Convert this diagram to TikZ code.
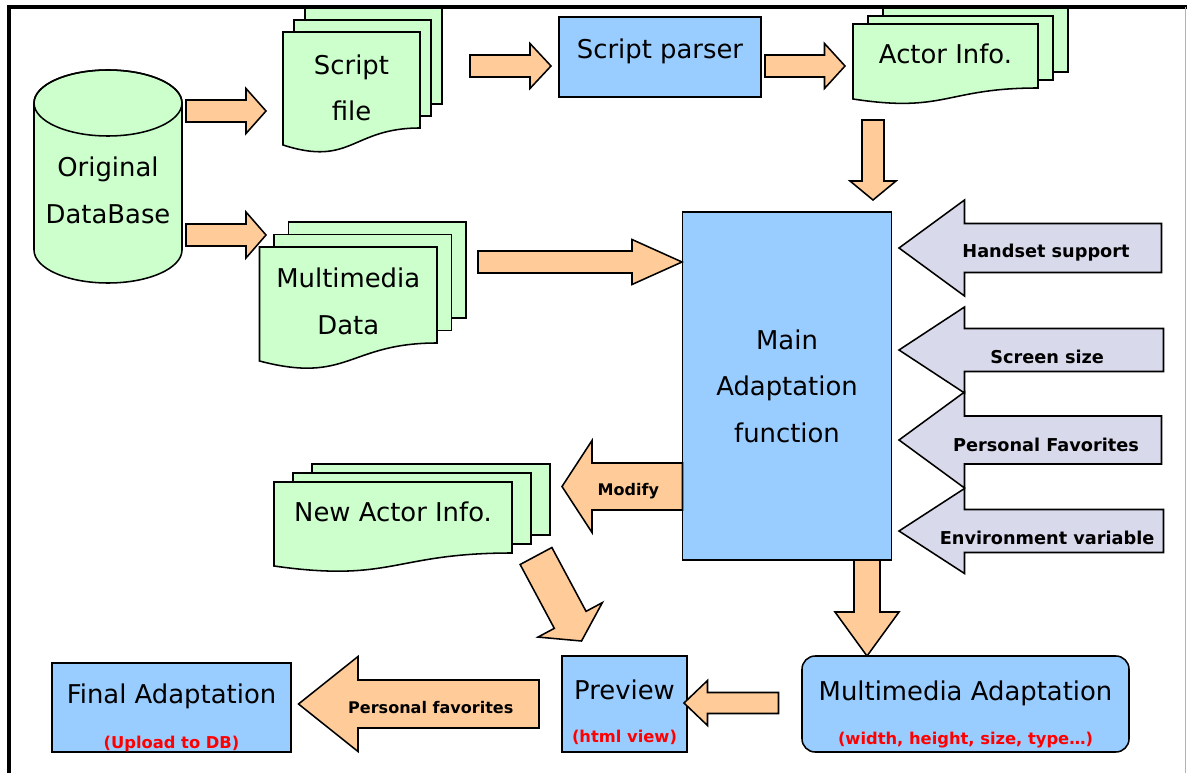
\documentclass[tikz,border=0pt]{standalone}
\usepackage{fontspec}
\setmainfont{DejaVu Sans}
\usetikzlibrary{calc}

\definecolor{docgreen}{HTML}{CCFFCC}
\definecolor{boxblue}{HTML}{99CCFF}
\definecolor{flowpeach}{HTML}{FFCC99}
\definecolor{inlilac}{HTML}{D9D9EC}

\tikzset{
  px box/.style 2 args={minimum width=#1*0.025cm, minimum height=#2*0.025cm, inner sep=0pt, outer sep=0pt},
  outline/.style={draw=black, line width=1.1pt, line join=miter},
  sheet/.style={outline, fill=docgreen},
  bluebox/.style={outline, fill=boxblue},
  fatarrow/.style={outline, fill=flowpeach},
  inarrow/.style={outline, fill=inlilac},
  big/.style={font=\fontsize{18.4}{33}\selectfont, align=center},
  lbl/.style={font=\bfseries\fontsize{11.4}{14}\selectfont},
  inlbl/.style={font=\bfseries\fontsize{12.6}{15}\selectfont},
  redlbl/.style={font=\bfseries\fontsize{11.6}{13}\selectfont, text=red},
}

% block arrow between two named coordinates:
% [style]{from}{to}{shaft half width}{head half width}{head length}
\newcommand{\barrow}[6][fatarrow]{%
  \coordinate (ba-h) at ($(#3)!#6*0.025cm!(#2)$);
  \draw[#1] ($(#2)!#4*0.025cm!90:(#3)$) -- ($(ba-h)!#4*0.025cm!90:(#3)$)
    -- ($(ba-h)!#5*0.025cm!90:(#3)$) -- (#3) -- ($(ba-h)!#5*0.025cm!-90:(#3)$)
    -- ($(ba-h)!#4*0.025cm!-90:(#3)$) -- ($(#2)!#4*0.025cm!-90:(#3)$) -- cycle;
}

% stack of three sheets with a wavy front sheet
% {name}{left}{top}{width}{left height}{right height}{sheet offset}{text shift}{text}
\newcommand{\docstack}[9]{%
  \foreach \k in {2,1}
    \draw[sheet] ($(#2,#3)+\k*#7$) rectangle ++(#4,#6);
  \draw[sheet] (#2,#3) -- ++(#4,0) -- ++(0,#6)
    .. controls ({#2+#4/2},{#3+#6}) and ({#2+#4/2},{#3+#5+1.3*(#5-#6)}) .. (#2,{#3+#5}) -- cycle;
  \node[px box={#4}{#6}] (#1) at ({#2+#4/2},{#3+#6/2}) {};
  \node[big] (#1-txt) at ($(#1.center)+(0,#8)$) {#9};
}

\begin{document}
\begin{tikzpicture}[x=0.025cm, y=-0.025cm]
  \useasboundingbox (0,0) rectangle (1187,773);

  % page frame
  \draw[line width=2.2pt] (9,773) -- (9,7) -- (1187,7);
  \draw[gray!60, line width=0.8pt] (1185.5,7) -- (1185.5,773);

  % database cylinder
  \node[px box={148}{213}] (db) at (108,176.5) {};
  \draw[sheet] ($(db.north west)+(0,33)$) -- ($(db.south west)+(0,-33)$)
    arc[start angle=180, end angle=0, x radius=74, y radius=33]
    -- ($(db.north east)+(0,33)$)
    arc[start angle=0, end angle=-180, x radius=74, y radius=33] -- cycle;
  \draw[outline] ($(db.north)+(0,33)$) ellipse [x radius=74, y radius=33];
  \node[big] (db-txt) at ($(db.center)+(0,14)$) {Original\\DataBase};

  % documents
  \docstack{script}{283}{32}{137}{113}{96}{(11,-12)}{8}{Script\\file}
  \docstack{actor}{853}{24}{185}{75}{64}{(15,-8)}{-2}{Actor Info.}
  \docstack{mmdata}{259.5}{247}{177.5}{114}{96}{(14.5,-12.5)}{6.5}{Multimedia\\Data}
  \docstack{newactor}{274}{482}{238}{84}{71}{(19,-9)}{-5.5}{New Actor Info.}

  % process boxes
  \node[bluebox, px box={202}{80}] (parser) at (660,57) {};
  \node[big] (parser-t) at ($(parser.center)+(0,-6)$) {Script parser};
  \node[bluebox, big, px box={209}{348}] (main) at (787,386) {Main\\Adaptation\\function};
  \node[bluebox, px box={125}{96}] (preview) at (624.5,704) {};
  \node[big] (preview-t) at ($(preview.north)+(0,34)$) {Preview};
  \node[redlbl] (preview-s) at ($(preview.south)+(0,-15)$) {(html view)};
  \node[bluebox, rounded corners=0.33cm, px box={327}{96}] (mma) at (965.5,704) {};
  \node[big] (mma-t) at ($(mma.north)+(0,37)$) {Multimedia Adaptation};
  \node[redlbl] (mma-s) at ($(mma.south)+(0,-12)$) {(width, height, size, type…)};
  \node[bluebox, px box={239}{89}] (final) at (171.5,707.5) {};
  \node[big] (final-t) at ($(final.north)+(0,33)$) {Final Adaptation};
  \node[redlbl] (final-s) at ($(final.south)+(0,-8)$) {(Upload to DB)};

  % data flow
  \coordinate (db-o1) at ($(db.north east)+(4,41)$);
  \coordinate (script-i) at ($(script.west)+(-17,31)$);
  \barrow{db-o1}{script-i}{11}{22.5}{20}
  \coordinate (db-o2) at ($(db.east)+(4,58.5)$);
  \coordinate (mm-i) at ($(mmdata.west)+(6.5,-60)$);
  \barrow{db-o2}{mm-i}{11}{23}{20}
  \coordinate (script-o) at ($(script.east)+(50,-14)$);
  \coordinate (parser-i) at ($(parser.west)+(-8,9)$);
  \barrow{script-o}{parser-i}{11}{22.5}{21}
  \coordinate (parser-o) at ($(parser.east)+(4,9)$);
  \coordinate (actor-i) at ($(actor.west)+(-8,10)$);
  \barrow{parser-o}{actor-i}{11}{22.5}{20.5}
  \coordinate (actor-o) at ($(actor.south west)+(20,32)$);
  \coordinate (main-i1) at ($(main.north)+(86,-12)$);
  \barrow{actor-o}{main-i1}{11}{23}{19}
  \coordinate (mm-o) at ($(mmdata.east)+(41,-33)$);
  \coordinate (main-i2) at ($(main.west)+(-0.5,-124)$);
  \barrow{mm-o}{main-i2}{11}{22.5}{50}
  \coordinate (main-o1) at ($(main.south)+(80,0)$);
  \coordinate (mma-i) at ($(mma.north)+(-98.5,0)$);
  \barrow{main-o1}{mma-i}{13}{32}{44}
  \coordinate (mma-o) at ($(mma.west)+(-23.5,-1)$);
  \coordinate (preview-i1) at ($(preview.east)+(-3,-1)$);
  \barrow{mma-o}{preview-i1}{10.5}{22.5}{23.5}
  \coordinate (main-o2) at ($(main.west)+(0,100.5)$);
  \coordinate (newactor-i) at ($(newactor.east)+(50,-31)$);
  \barrow{main-o2}{newactor-i}{23.5}{46}{30}
  \node[lbl] (modify) at ($(newactor-i)!0.55!(main-o2)+(0,5)$) {Modify};
  \coordinate (newactor-o) at ($(newactor.south east)+(24,3)$);
  \coordinate (preview-i2) at ($(preview.north)+(-43,-15)$);
  \barrow{newactor-o}{preview-i2}{18}{36.5}{24}
  \coordinate (preview-o) at ($(preview.west)+(-23,0)$);
  \coordinate (final-i) at ($(final.east)+(7.5,-3.5)$);
  \barrow{preview-o}{final-i}{24}{47.5}{59.5}
  \node[lbl] (favs) at ($(final-i)!0.55!(preview-o)+(0,4)$) {Personal favorites};

  % inputs to the adaptation function
  \coordinate (hs-in) at ($(main.east)+(270,-138)$);
  \coordinate (hs-tip) at ($(main.east)+(7.5,-138)$);
  \barrow[inarrow]{hs-in}{hs-tip}{24.5}{48}{65.5}
  \node[inlbl] (hs-lbl) at ($(hs-tip)!0.56!(hs-in)+(0,5)$) {Handset support};
  \coordinate (sc-in) at ($(main.east)+(272,-36)$);
  \coordinate (sc-tip) at ($(main.east)+(7.5,-36)$);
  \barrow[inarrow]{sc-in}{sc-tip}{21.5}{43}{65.5}
  \node[inlbl] (sc-lbl) at ($(sc-tip)!0.56!(sc-in)+(0,7)$) {Screen size};
  \coordinate (pf-in) at ($(main.east)+(270,54)$);
  \coordinate (pf-tip) at ($(main.east)+(7.5,54)$);
  \barrow[inarrow]{pf-in}{pf-tip}{24}{48}{65.5}
  \node[inlbl] (pf-lbl) at ($(pf-tip)!0.56!(pf-in)+(0,5)$) {Personal Favorites};
  \coordinate (env-in) at ($(main.east)+(272,145)$);
  \coordinate (env-tip) at ($(main.east)+(7.5,145)$);
  \barrow[inarrow]{env-in}{env-tip}{21.5}{42.5}{65.5}
  \node[inlbl] (env-lbl) at ($(env-tip)!0.56!(env-in)+(0,7)$) {Environment variable};
\end{tikzpicture}
\end{document}
